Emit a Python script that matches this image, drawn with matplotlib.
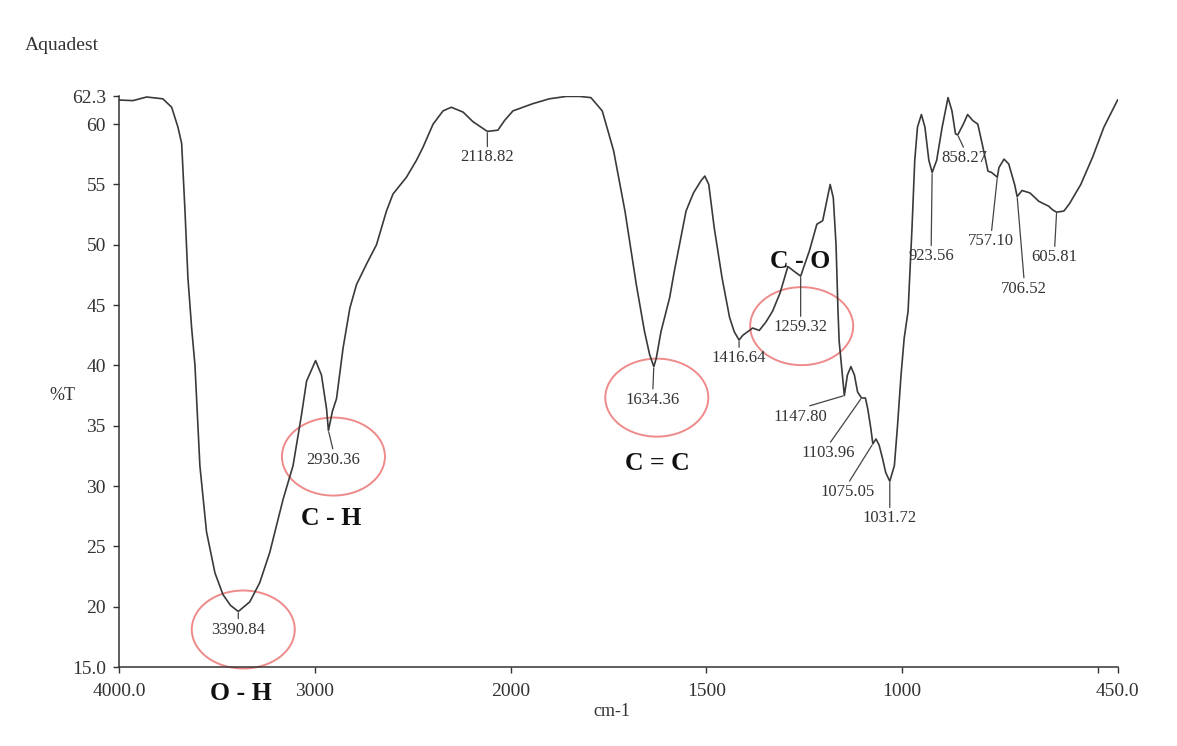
import numpy as np
import matplotlib.pyplot as plt
from matplotlib.patches import Ellipse
from matplotlib.transforms import ScaledTranslation

plt.rcParams['font.family'] = ['Liberation Serif', 'DejaVu Serif']

# FTIR spectrum of the sample (wavenumber in cm-1, transmittance in %T)
wavenumber = [4000, 3929, 3859, 3776, 3731, 3699, 3680, 3663, 3648, 3629,
              3612, 3587, 3553, 3510, 3469, 3430, 3390.84, 3332, 3281, 3230,
              3162, 3111, 3068, 3042, 2996, 2966, 2940, 2930.36, 2910, 2889,
              2856, 2821, 2787, 2736, 2685, 2634, 2601, 2532, 2481, 2447,
              2396, 2345, 2303, 2243, 2192, 2118.82, 2065, 2031, 1994, 1943,
              1901, 1858, 1824, 1795, 1766, 1737, 1708, 1679, 1658, 1645,
              1634.36, 1628, 1616, 1594, 1582, 1552, 1533, 1514, 1504, 1494,
              1480, 1460, 1441, 1429, 1416.64, 1407, 1390, 1382, 1365, 1348,
              1331, 1312, 1292, 1276, 1259.32, 1252, 1237, 1218, 1203, 1194,
              1184, 1176, 1169, 1164, 1161, 1147.80, 1140, 1131, 1122, 1114,
              1103.96, 1094, 1088, 1080, 1075.05, 1067, 1059, 1050, 1042, 1031.72,
              1020, 1012, 1003, 995, 985, 975, 968, 961, 951, 942,
              932, 923.56, 912, 898, 883, 873, 864, 858.27, 844, 833,
              820, 807, 796, 781, 772, 757.10, 753, 740, 728, 713,
              706.52, 694, 674, 651, 626, 616, 605.81, 587, 573, 544,
              514, 485, 450]
transmittance = [62.0, 61.95, 62.25, 62.1, 61.4, 59.75, 58.4, 52.8, 47.25, 43.1,
                 40.0, 31.7, 26.2, 22.8, 21.0, 20.1, 19.6, 20.4, 22.0, 24.5,
                 28.9, 31.7, 35.9, 38.7, 40.4, 39.2, 36.4, 34.6, 36.2, 37.25,
                 41.4, 44.75, 46.7, 48.4, 50.0, 52.8, 54.2, 55.6, 57.0, 58.1,
                 60.0, 61.1, 61.4, 61.0, 60.2, 59.4, 59.5, 60.3, 61.1, 61.7,
                 62.1, 62.3, 62.3, 62.2, 61.1, 57.8, 52.8, 46.7, 42.8, 40.9,
                 39.9, 40.6, 42.8, 45.6, 47.8, 52.8, 54.3, 55.3, 55.7, 55.0,
                 51.4, 47.25, 44.0, 42.8, 42.1, 42.5, 42.9, 43.1, 42.9, 43.6,
                 44.5, 46.0, 48.2, 47.8, 47.4, 48.1, 49.5, 51.7, 52.0, 53.4,
                 55.0, 53.9, 50.0, 44.5, 42.0, 37.5, 39.2, 39.9, 39.2, 37.8,
                 37.3, 37.3, 36.4, 34.75, 33.5, 33.9, 33.4, 32.25, 31.1, 30.4,
                 31.7, 35.0, 39.2, 42.25, 44.5, 51.4, 57.0, 59.75, 60.8, 59.75,
                 57.0, 56.0, 57.0, 59.75, 62.2, 61.1, 59.2, 59.1, 60.0, 60.8,
                 60.3, 60.0, 58.4, 56.1, 56.0, 55.6, 56.4, 57.1, 56.7, 55.0,
                 54.0, 54.5, 54.3, 53.6, 53.2, 52.9, 52.7, 52.8, 53.4, 55.0,
                 57.25, 59.75, 62.0]

peaks = [3390.84, 2930.36, 2118.82, 1634.36, 1416.64, 1259.32, 1147.80,
         1103.96, 1075.05, 1031.72, 923.56, 858.27, 757.10, 706.52, 605.81]
bands = ['O - H', 'C - H', 'C = C', 'C - O']
band_peaks = [3390.84, 2930.36, 1634.36, 1259.32]

xticks = [4000, 3000, 2000, 1500, 1000, 500, 450]
xticklabels = ['4000.0', '3000', '2000', '1500', '1000', '', '450.0']
yticks = [15, 20, 25, 30, 35, 40, 45, 50, 55, 60, 62.3]
yticklabels = ['15.0', '20', '25', '30', '35', '40', '45', '50', '55', '60', '62.3']

# label placement (pixels right / down from the peak)
label_offset = {3390.84: (0, 18), 2930.36: (5, 29), 2118.82: (0, 26),
                1634.36: (-1, 33), 1416.64: (0, 18), 1259.32: (0, 51),
                1147.80: (-44, 21), 1103.96: (-33, 55), 1075.05: (-25, 48),
                1031.72: (0, 37), 923.56: (-1, 84), 858.27: (7, 23),
                757.10: (-6, 64), 706.52: (7, 92), 605.81: (-2, 45)}
ellipse_offset = {3390.84: (5, 18), 2930.36: (5, 26), 1634.36: (3, 31), 1259.32: (1, 50)}
band_offset = {'O - H': (3, 82), 'C - H': (3, 88), 'C = C': (4, 97), 'C - O': (-1, -15)}


# spectrometer axis: 4000-2000 at half the scale of 2000-450
def fwd(w):
    w = np.asarray(w, dtype=float)
    return np.where(w >= 2000, w, 2 * w - 2000)


def inv(u):
    u = np.asarray(u, dtype=float)
    return np.where(u >= 2000, u, (u + 2000) / 2)


ink = '#333333'
fig = plt.figure(figsize=(11.77, 7.46), dpi=100)
ax = fig.add_axes([119 / 1177, 79 / 746, 998.6 / 1177, 570.6 / 746])
ax.set_xscale('function', functions=(fwd, inv))
ax.plot(wavenumber, transmittance, color='#3a3a3a', lw=1.2)
ax.set_xlim(4000, 450)
ax.set_ylim(15, 62.3)

ax.set_xticks(xticks)
ax.set_xticklabels(xticklabels)
ax.set_yticks(yticks)
ax.set_yticklabels(yticklabels)
ax.tick_params(direction='out', length=4.5, width=1, colors=ink, labelsize=14, pad=5)
ax.tick_params(axis='x', pad=7)
ax.xaxis.set_minor_locator(plt.NullLocator())
for side in ['top', 'right']:
    ax.spines[side].set_visible(False)
for side in ['left', 'bottom']:
    ax.spines[side].set_color(ink)
    ax.spines[side].set_linewidth(1.1)

wn_rev = wavenumber[::-1]
t_rev = transmittance[::-1]
px = 0.72  # points per pixel at 100 dpi

for w in peaks:
    t = np.interp(w, wn_rev, t_rev)
    dx, dy = label_offset[w]
    ax.annotate(f'{w:.2f}', xy=(w, t), xytext=(dx * px, -dy * px),
                textcoords='offset points', ha='center', va='center',
                fontsize=12, color=ink,
                arrowprops=dict(arrowstyle='-', color='#444444', lw=0.9,
                                shrinkA=0, shrinkB=1, relpos=(0.5, 1.0)))

for w in band_peaks:
    t = np.interp(w, wn_rev, t_rev)
    dx, dy = ellipse_offset[w]
    trans = fig.dpi_scale_trans + ScaledTranslation(w, t, ax.transData)
    ax.add_patch(Ellipse((dx / 100, -dy / 100), 1.03, 0.78, transform=trans,
                         fill=False, ec='#ee8a8a', lw=1.4, clip_on=False))

for name, w in zip(bands, band_peaks):
    t = np.interp(w, wn_rev, t_rev)
    dx, dy = band_offset[name]
    ax.annotate(name, xy=(w, t), xytext=(dx * px, -dy * px),
                textcoords='offset points', ha='center', va='center',
                fontsize=18.5, fontweight='bold', color='#111111',
                annotation_clip=False)

fig.text(25 / 1177, 1 - 45 / 746, 'Aquadest', ha='left', va='center', fontsize=14, color=ink)
fig.text(62 / 1177, 1 - 396 / 746, '%T', ha='center', va='center', fontsize=13, color=ink)
fig.text(612 / 1177, 1 - 712 / 746, 'cm-1', ha='center', va='center', fontsize=13, color=ink)

fig.savefig('out.png', dpi=100)
